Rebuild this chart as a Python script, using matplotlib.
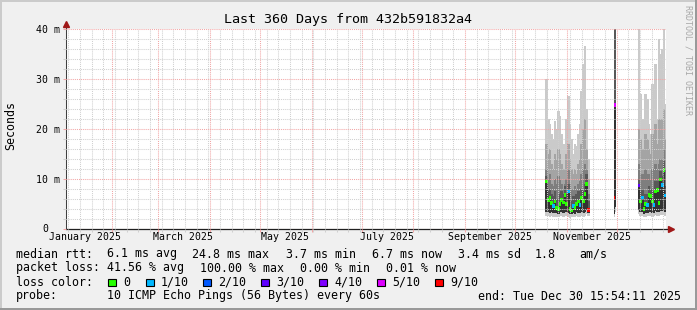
import matplotlib
matplotlib.use('Agg')
import matplotlib.pyplot as plt
import matplotlib.dates as mdates
import matplotlib.transforms as mtransforms
from matplotlib.patches import Rectangle
from datetime import datetime, timedelta
import numpy as np

plt.rcParams['font.family'] = 'DejaVu Sans Mono'

# 360 days up to the "end:" stamp
end = datetime(2025, 12, 30, 15, 54, 11)
start = end - timedelta(days=360)

# block 1: one slice per day from 19 Oct 12:00
b1_start = datetime(2025, 10, 19, 12)
b1_median = [9.5, 5.8, 6.2, 5.2, 4.6, 5.5, 4.2, 4.0, 5.0, 5.8, 5.3, 6.8, 5.0,
             7.5, 4.0, 3.7, 4.6, 4.2, 5.0, 5.5, 4.8, 6.2, 5.6, 7.0, 9.0, 3.8]
b1_loss = [0, 0, 0, 0, 1, 0, 0, 0, 0, 0, 0, 0, 0, 1, 0, 0, 1, 0, 0, 0, 1, 0, 0, 0, 0, 9]
b1_lo = [2.6, 2.7, 2.5, 2.6, 2.4, 2.6, 2.5, 2.4, 2.6, 2.7, 2.5, 2.8, 2.6,
         2.5, 2.3, 2.4, 2.5, 2.4, 2.6, 2.5, 2.4, 2.6, 2.5, 2.7, 3.0, 2.6]
b1_lo_in = [3.4, 3.5, 3.3, 3.4, 3.2, 3.4, 3.3, 3.1, 3.4, 3.5, 3.3, 3.6, 3.4,
            3.3, 3.0, 3.1, 3.2, 3.1, 3.4, 3.3, 3.2, 3.4, 3.3, 3.5, 3.8, 3.2]
b1_hi = [30, 22, 21, 19, 18, 21.5, 20, 23.5, 22.5, 19, 17, 16, 22,
         26.5, 21, 18, 15, 17, 16.5, 19, 21, 27.5, 33, 36.5, 24, 14]
b1_hi2 = [17, 15, 16, 13, 12, 15, 14, 16, 15, 13, 12, 11, 15,
          17, 14, 12, 11, 12, 11, 13, 14, 17, 20, 22, 16, 10]
b1_hi3 = [12, 10, 11, 9, 8.5, 10, 9, 10.5, 10, 9, 8, 9, 10,
          12, 9, 8, 8, 8.5, 8, 9, 9.5, 11, 12, 13, 12, 7]
b1_hi4 = [10.5, 7.5, 8, 7, 6.5, 7.5, 6, 6, 7, 7.5, 7, 8.5, 7,
          9, 6, 5.5, 6.5, 6, 7, 7.5, 6.5, 8, 7.5, 9, 11, 5.5]

# spike around 29 Nov, half-day slices
sp_start = datetime(2025, 11, 29, 12)
sp_median = [6.2, 24.8]
sp_loss = [9, 5]
sp_lo = [2.5, 3.5]
sp_lo_in = [3.0, 4.5]
sp_hi = [24.8, 45]
sp_hi2 = [24.8, 45]
sp_hi3 = [24.0, 45]
sp_hi4 = [23.0, 45]

# block 2: one slice per day from 14 Dec
b2_start = datetime(2025, 12, 14)
b2_median = [8.7, 5.5, 6.3, 4.0, 5.0, 4.8, 6.8, 6.6, 5.5, 4.8, 7.5, 7.8, 5.2, 9.9, 8.8, 11.8, 6.7]
b2_loss = [3, 0, 1, 0, 0, 1, 0, 0, 0, 1, 0, 0, 0, 0, 1, 0, 1]
b2_lo = [3.0, 2.6, 2.7, 2.4, 2.5, 2.6, 2.7, 2.6, 2.5, 2.6, 2.8, 2.7, 2.6, 2.9, 2.8, 3.0, 2.7]
b2_lo_in = [3.8, 3.4, 3.5, 3.1, 3.3, 3.3, 3.5, 3.4, 3.3, 3.3, 3.6, 3.5, 3.4, 3.7, 3.6, 3.8, 3.5]
b2_hi = [42, 27, 22, 20, 27, 26, 21, 19, 29, 24, 33, 22, 38, 35, 36, 42, 25]
b2_hi2 = [20, 18, 16, 15, 19, 18, 16, 15, 19, 17, 21, 17, 22, 22, 22, 24, 18]
b2_hi3 = [13, 11, 11, 10, 12, 11, 11, 10, 12, 11, 13, 12, 13, 14, 14, 16, 12]
b2_hi4 = [10, 7.5, 8, 6.5, 7, 7, 8.5, 8, 7.5, 7, 9.5, 9.5, 7.5, 11.5, 10.5, 13.5, 8.5]

loss_colors = {0: '#26ff00', 1: '#00b8ff', 2: '#0059ff', 3: '#5e00ff',
               4: '#7e00ff', 5: '#dd00ff', 9: '#ff0000'}
loss_labels = ['0', '1/10', '2/10', '3/10', '4/10', '5/10', '9/10']
loss_keys = [0, 1, 2, 3, 4, 5, 9]

month_labels = ['January 2025', 'March 2025', 'May 2025', 'July 2025',
                'September 2025', 'November 2025']
label_dates = [datetime(2025, m, 16) for m in (1, 3, 5, 7, 9, 11)]

W, H = 697, 310
fig = plt.figure(figsize=(W / 100, H / 100), dpi=100, facecolor='#f0f0f0')
ax = fig.add_axes([66 / W, 1 - 229 / H, 600 / W, 200 / H])
ax.set_facecolor('white')


def smoke(first, step, lo, lo_in, hi, hi2, hi3, hi4, med, loss):
    x = mdates.date2num([first + timedelta(days=step * i) for i in range(len(med))])
    lo, lo_in, hi, hi2, hi3, hi4, med = [np.array(a, float) for a in (lo, lo_in, hi, hi2, hi3, hi4, med)]
    kw = dict(width=step, align='edge', linewidth=0, antialiased=False)
    bars = []
    bars.append(ax.bar(x, hi - lo, bottom=lo, color='#cacaca', **kw))
    bars.append(ax.bar(x, hi2 - lo_in, bottom=lo_in, color='#a4a4a4', **kw))
    bars.append(ax.bar(x, hi3 - lo_in, bottom=lo_in, color='#7e7e7e', **kw))
    bars.append(ax.bar(x, hi4 - lo_in, bottom=lo_in, color='#585858', **kw))
    bars.append(ax.bar(x, med - lo_in, bottom=lo_in, color='#323232', **kw))
    bars.append(ax.bar(x, 0.6, bottom=med - 0.3, color=[loss_colors[l] for l in loss], **kw))
    for b in bars:
        for p in b:
            p.set_snap(False)


smoke(b1_start, 1, b1_lo, b1_lo_in, b1_hi, b1_hi2, b1_hi3, b1_hi4, b1_median, b1_loss)
smoke(sp_start, 0.5, sp_lo, sp_lo_in, sp_hi, sp_hi2, sp_hi3, sp_hi4, sp_median, sp_loss)
smoke(b2_start, 1, b2_lo, b2_lo_in, b2_hi, b2_hi2, b2_hi3, b2_hi4, b2_median, b2_loss)

ax.set_xlim(start, end)
ax.set_ylim(0, 40)
for s in ax.spines.values():
    s.set_visible(False)

dots = (0, (1, 1))
ax.set_yticks([0, 10, 20, 30, 40])
ax.set_yticklabels(['0', '10 m', '20 m', '30 m', '40 m'])
ax.set_yticks(np.arange(0, 41, 2), minor=True)
ax.xaxis.set_major_locator(mdates.MonthLocator())
ax.xaxis.set_minor_locator(mdates.WeekdayLocator(byweekday=mdates.MO))
ax.grid(True, which='minor', color='#d0d0d0', linestyle=dots, linewidth=0.75)
ax.grid(True, which='major', color='#f2a6a6', linestyle=dots, linewidth=0.75)
ax.set_axisbelow(False)
ax.tick_params(axis='x', which='both', labelbottom=False, length=2, width=0.75)
ax.tick_params(axis='x', which='major', color='#f2a6a6')
ax.tick_params(axis='x', which='minor', color='#d0d0d0')
ax.tick_params(axis='y', which='both', length=2, width=0.75, labelsize=7.1, pad=2.3)
ax.tick_params(axis='y', which='major', color='#f2a6a6')
ax.tick_params(axis='y', which='minor', color='#d0d0d0')

# rrdtool lines the "0" up with the units digit of the other labels
zero_lab = ax.get_yticklabels()[0]
zero_lab.set_transform(zero_lab.get_transform() +
                       mtransforms.ScaledTranslation(-0.12, 0.01, fig.dpi_scale_trans))

for d, s in zip(label_dates, month_labels):
    ax.text(mdates.date2num(d), -0.042, s, transform=ax.get_xaxis_transform(),
            ha='center', va='center', fontsize=7.1)

# axis lines and arrows
ax.plot([0, 0], [0, 1.015], transform=ax.transAxes, color='#404040', lw=0.75, clip_on=False)
ax.plot([0, 1.006], [0, 0], transform=ax.transAxes, color='#202020', lw=0.9, clip_on=False)
ax.plot([0], [1.024], marker='^', ms=4.5, color='#a01818', transform=ax.transAxes, clip_on=False)
ax.plot([1.009], [0], marker='>', ms=4.5, color='#a01818', transform=ax.transAxes, clip_on=False)

# frame shading
for (x0, y0, w, h, c) in [(0, 0, W, 2, '#cbcbcb'), (0, 0, 2, H, '#cbcbcb'),
                          (W - 2, 0, 2, H, '#999999'), (0, H - 2, W, 2, '#999999')]:
    fig.add_artist(Rectangle((x0 / W, 1 - (y0 + h) / H), w / W, h / H,
                             transform=fig.transFigure, color=c, lw=0))

fig.text(348 / W, 1 - 19 / H, 'Last 360 Days from 432b591832a4',
         ha='center', va='center', fontsize=9.6)
fig.text(11 / W, 1 - 126 / H, 'Seconds', rotation=90, ha='center', va='center', fontsize=8.4)
fig.text(688 / W, 1 - 60 / H, 'RRDTOOL / TOBI OETIKER', rotation=270,
         ha='center', va='center', fontsize=6, color='#a8a8a8')


def row(y, items):
    for x, s in items:
        fig.text(x / W, 1 - y / H, s, ha='left', va='center', fontsize=8.4)


row(254, [(16, 'median rtt:'), (107, '6.1 ms avg'), (192, '24.8 ms max'),
          (286, '3.7 ms min'), (372, '6.7 ms now'), (458, '3.4 ms sd'),
          (535, '1.8'), (579, 'am/s')])
row(268, [(16, 'packet loss:'), (107, '41.56 % avg'), (200, '100.00 % max'),
          (300, '0.00 % min'), (386, '0.01 % now')])
row(282, [(16, 'loss color:')])
box_x = [108, 146, 203, 261, 319, 377, 435]
for bx, k, lab in zip(box_x, loss_keys, loss_labels):
    fig.add_artist(Rectangle((bx / W, 1 - 286 / H), 7.5 / W, 7.5 / H,
                             transform=fig.transFigure, facecolor=loss_colors[k],
                             edgecolor='black', lw=0.8))
    fig.text((bx + 15) / W, 1 - 282 / H, lab, ha='left', va='center', fontsize=8.4)
row(296, [(16, 'probe:'), (107, '10 ICMP Echo Pings (56 Bytes) every 60s')])
fig.text(681 / W, 1 - 296 / H, 'end: Tue Dec 30 15:54:11 2025', ha='right', va='center', fontsize=8.4)

fig.savefig('out.png', dpi=100, facecolor=fig.get_facecolor())
